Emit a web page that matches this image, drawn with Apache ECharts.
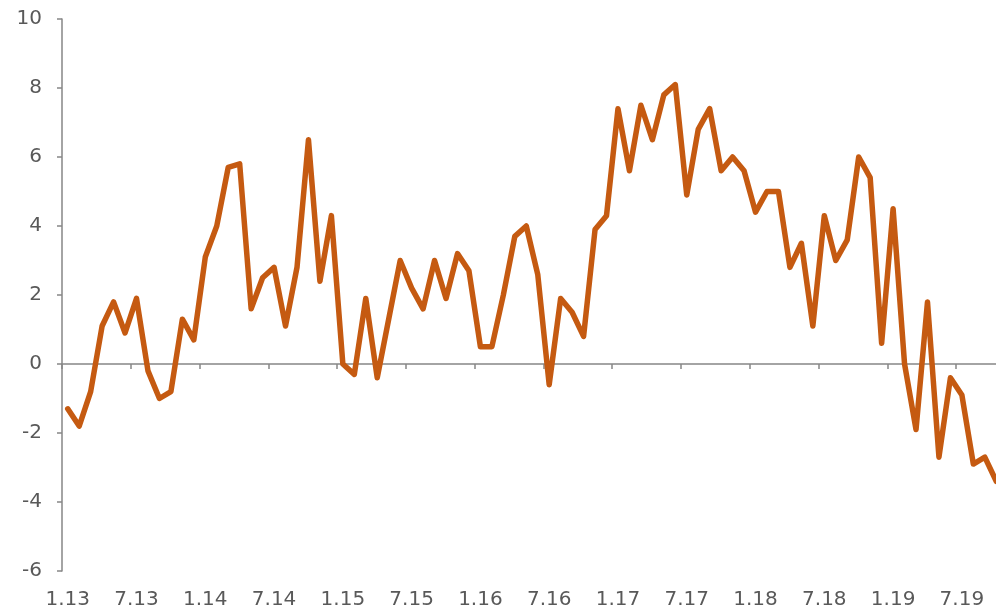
<!DOCTYPE html>
<html>
<head>
<meta charset="utf-8">
<title>Monthly series 2013–2019</title>
<script src="https://cdn.jsdelivr.net/npm/echarts@6/dist/echarts.min.js"></script>
<style>
  html, body { margin: 0; padding: 0; background: #ffffff; }
  #chart { width: 996px; height: 612px; }
</style>
</head>
<body>
<div id="chart"></div>
<script>
// Month labels (m.yy), Jan 2013 – Oct 2019
const categories = [
  '1.13','2.13','3.13','4.13','5.13','6.13','7.13','8.13','9.13','10.13','11.13','12.13',
  '1.14','2.14','3.14','4.14','5.14','6.14','7.14','8.14','9.14','10.14','11.14','12.14',
  '1.15','2.15','3.15','4.15','5.15','6.15','7.15','8.15','9.15','10.15','11.15','12.15',
  '1.16','2.16','3.16','4.16','5.16','6.16','7.16','8.16','9.16','10.16','11.16','12.16',
  '1.17','2.17','3.17','4.17','5.17','6.17','7.17','8.17','9.17','10.17','11.17','12.17',
  '1.18','2.18','3.18','4.18','5.18','6.18','7.18','8.18','9.18','10.18','11.18','12.18',
  '1.19','2.19','3.19','4.19','5.19','6.19','7.19','8.19','9.19','10.19'
];

// Monthly values
const values = [
  -1.3, -1.8, -0.8, 1.1, 1.8, 0.9, 1.9, -0.2, -1.0, -0.8, 1.3, 0.7,
  3.1, 4.0, 5.7, 5.8, 1.6, 2.5, 2.8, 1.1, 2.8, 6.5, 2.4, 4.3,
  0.0, -0.3, 1.9, -0.4, 1.3, 3.0, 2.2, 1.6, 3.0, 1.9, 3.2, 2.7,
  0.5, 0.5, 2.0, 3.7, 4.0, 2.6, -0.6, 1.9, 1.5, 0.8, 3.9, 4.3,
  7.4, 5.6, 7.5, 6.5, 7.8, 8.1, 4.9, 6.8, 7.4, 5.6, 6.0, 5.6,
  4.4, 5.0, 5.0, 2.8, 3.5, 1.1, 4.3, 3.0, 3.6, 6.0, 5.4, 0.6,
  4.5, 0.0, -1.9, 1.8, -2.7, -0.4, -0.9, -2.9, -2.7, -3.4
];

// Y axis range
const yMin = -6;
const yMax = 10;
const yStep = 2;

const axisGray = '#868686';
const textGray = '#595959';
const lineColor = '#C55A11';
const fontFamily = '"DejaVu Sans", Verdana, sans-serif';

const chart = echarts.init(document.getElementById('chart'), null, { renderer: 'canvas' });

chart.setOption({
  animation: false,
  backgroundColor: '#ffffff',
  // plot area runs slightly past the right edge of the canvas
  grid: { left: 62, width: 940, top: 19, bottom: 41, containLabel: false, outerBoundsMode: 'none' },
  xAxis: [
    {
      // bottom labels only
      type: 'category',
      data: categories,
      position: 'bottom',
      boundaryGap: true,
      axisLine: { show: false, onZero: false },
      axisTick: { show: false },
      splitLine: { show: false },
      axisLabel: {
        interval: 5,
        margin: 19,
        color: textGray,
        fontSize: 20,
        fontFamily: fontFamily
      }
    },
    {
      // axis line and ticks along zero
      type: 'category',
      data: categories,
      position: 'bottom',
      boundaryGap: true,
      axisLine: { show: true, onZero: true, onZeroAxisIndex: 0, lineStyle: { color: axisGray, width: 1.5 } },
      axisTick: { show: true, interval: 5, length: 5, lineStyle: { color: axisGray, width: 1.5 } },
      axisLabel: { show: false },
      splitLine: { show: false }
    }
  ],
  yAxis: {
    type: 'value',
    min: yMin,
    max: yMax,
    interval: yStep,
    axisLine: { show: true, lineStyle: { color: axisGray, width: 1.5 } },
    axisTick: { show: true, length: 5, lineStyle: { color: axisGray, width: 1.5 } },
    splitLine: { show: false },
    axisLabel: {
      margin: 20,
      color: textGray,
      fontSize: 20,
      fontFamily: fontFamily
    }
  },
  series: [
    {
      type: 'line',
      xAxisIndex: 0,
      data: values,
      symbol: 'none',
      smooth: false,
      clip: false,
      lineStyle: { color: lineColor, width: 5.5, join: 'round', cap: 'round' }
    }
  ]
});
</script>
</body>
</html>
